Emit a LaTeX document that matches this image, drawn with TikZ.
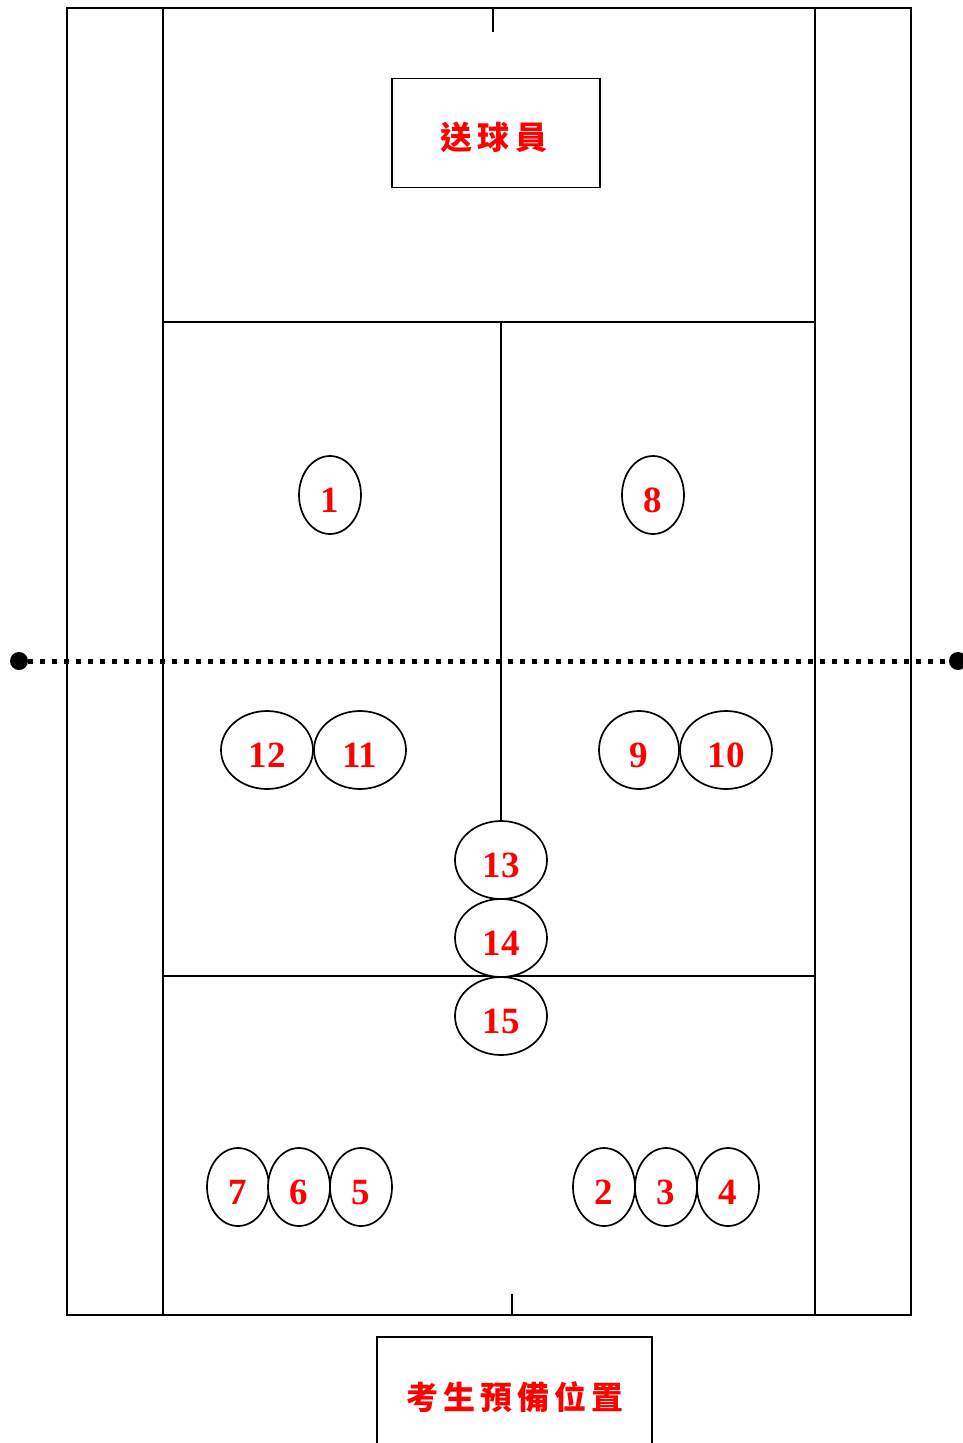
\documentclass[tikz,border=0pt]{standalone}
\usepackage{fontspec}
\setmainfont{Liberation Serif}
\newfontfamily\cjk{Noto Sans CJK TC}
\usetikzlibrary{shapes.geometric}
\definecolor{lbl}{RGB}{255,0,0}
\begin{document}
\begin{tikzpicture}[x=1pt,y=-1pt,
  court/.style={line width=1.7pt,draw=black},
  plr/.style={ellipse,draw=black,line width=1.7pt,fill=white,minimum height=78pt,
    text=lbl,font=\fontsize{37}{37}\selectfont\bfseries,inner sep=0pt,
    text height=34pt,text depth=0pt},
  nar/.style={plr,minimum width=62pt},
  wid/.style={plr,minimum width=92pt},
  labelbox/.style={draw=black,line width=1.7pt,text=lbl,inner sep=0pt},
  dotend/.style={circle,fill=black,minimum size=18pt,inner sep=0pt}]
\useasboundingbox (0,0) rectangle (963,1443);
\clip (0,0) rectangle (963,1443);
% court
\draw[court] (67,8) rectangle (911,1315);
\draw[court] (163,8) -- (163,1315);
\draw[court] (815,8) -- (815,1315);
\draw[court] (163,322) -- (815,322);
\draw[court] (163,976) -- (815,976);
\draw[court] (493,8) -- (493,32);
\draw[court] (512,1294) -- (512,1315);
\coordinate (svc) at (501,322);
% net
\node[dotend] (dl) at (19,661) {};
\node[dotend] (dr) at (958,661) {};
\draw[line width=5pt,dash pattern=on 5pt off 7pt] (dl) -- (dr);
% boxes
\node[labelbox,minimum width=208pt,minimum height=109pt] (feeder) at (496,133) {};
\node[text=lbl,font=\cjk\fontsize{32}{32}\selectfont\bfseries] (feedertxt) at (494,137) {送\,球\,員};
\node[labelbox,minimum width=275pt,minimum height=124pt] (wait) at (514.5,1399) {};
\node[text=lbl,font=\cjk\fontsize{32}{32}\selectfont\bfseries] (waittxt) at (515,1397) {考\hspace{5pt}生\hspace{5pt}預\hspace{5pt}備\hspace{5pt}位\hspace{5pt}置};
% players
\node[nar] (p1) at (330,495) {1};
\node[nar] (p8) at (653,495) {8};
\node[wid] (p12) at (267,750) {12};
\node[wid] (p11) at (360,750) {11};
\node[plr,minimum width=80pt] (p9) at (639,750) {9};
\node[wid] (p10) at (726,750) {10};
\node[wid] (p13) at (501,860) {13};
\node[wid] (p14) at (501,938) {14};
\node[wid] (p15) at (501,1016) {15};
\node[nar] (p7) at (238,1187) {7};
\node[nar] (p6) at (299,1187) {6};
\node[nar] (p5) at (361,1187) {5};
\node[nar] (p2) at (604,1187) {2};
\node[nar] (p3) at (666,1187) {3};
\node[nar] (p4) at (728,1187) {4};
% centre service line
\draw[court] (svc) -- (p13.north);
\end{tikzpicture}
\end{document}
